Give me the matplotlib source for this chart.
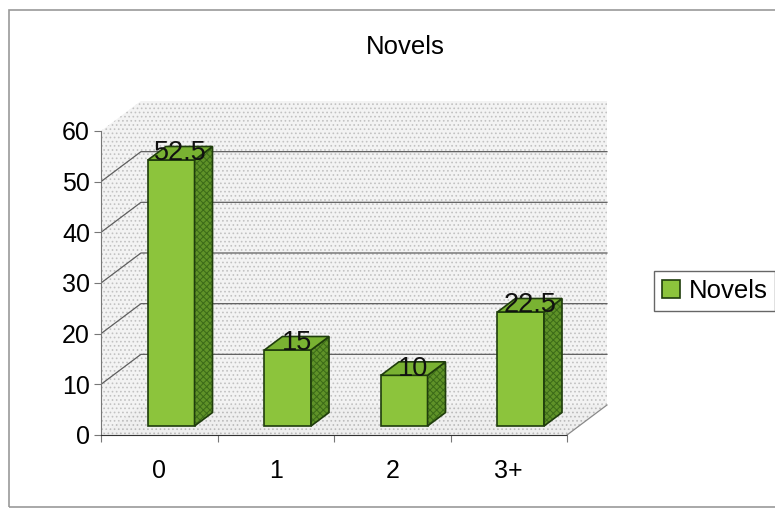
import numpy as np
import matplotlib.pyplot as plt
from matplotlib.patches import Polygon, Rectangle, Patch

plt.rcParams['font.family'] = ['Liberation Sans', 'DejaVu Sans']
plt.rcParams['hatch.linewidth'] = 0.7

categories = ['0', '1', '2', '3+']
novels = [52.5, 15, 10, 22.5]
y_ticks = [0, 10, 20, 30, 40, 50, 60]

# pseudo-3D geometry (data units: one category = 1, y in value units)
DX, DY = 0.343, 5.92        # depth of the whole plot box
F0, F1 = 0.30, 0.75         # bar front / back as fraction of depth
BAR_W = 0.40
YMAX = 60

FRONT = '#8cc43c'
TOP = '#79b232'
SIDE = '#5f9228'
EDGE = '#1f3d0c'
WALL = '#f3f3f3'
DOTS = '#c2c2c2'

fig = plt.figure(figsize=(7.75, 5.08), dpi=100)
W, H = 775, 508
x0_px, x1_px, y0_px, y1_px = 101, 625, 435, 88
ax = fig.add_axes([x0_px / W, 1 - y0_px / H, (x1_px - x0_px) / W, (y0_px - y1_px) / H])
ax.set_xlim(0, (x1_px - x0_px) / 116.5)
ax.set_ylim(0, (y0_px - y1_px) / 5.067)
ax.patch.set_visible(False)

n = len(categories)

# walls and floor
back = Polygon([(DX, DY), (n + DX, DY), (n + DX, YMAX + DY), (DX, YMAX + DY)],
               facecolor=WALL, edgecolor=DOTS, hatch='....', lw=0, zorder=0)
side = Polygon([(0, 0), (DX, DY), (DX, YMAX + DY), (0, YMAX)],
               facecolor=WALL, edgecolor=DOTS, hatch='....', lw=0, zorder=0)
floor = Polygon([(0, 0), (n, 0), (n + DX, DY), (DX, DY)],
                facecolor='#efefef', edgecolor='#bbbbbb', hatch='....', lw=0, zorder=0)
for p in (back, side, floor):
    ax.add_patch(p)

# gridlines on the walls
for v in y_ticks[1:-1]:
    ax.plot([0, DX, n + DX], [v, v + DY, v + DY], color='#5e5e5e', lw=0.9, zorder=1)
ax.plot([n, n + DX], [0, DY], color='#8a8a8a', lw=0.9, zorder=1)

# front faces of the bars
xs = np.arange(n) + 0.5 - BAR_W / 2 + F0 * DX
ax.bar(xs, novels, width=BAR_W, bottom=F0 * DY, align='edge',
       color=FRONT, edgecolor=EDGE, lw=1.2, zorder=3)

dxb, dyb = (F1 - F0) * DX, (F1 - F0) * DY
for i, v in enumerate(novels):
    xl, xr = xs[i], xs[i] + BAR_W
    yb, yt = F0 * DY, v + F0 * DY
    side_pts = [(xr, yb), (xr + dxb, yb + dyb), (xr + dxb, yt + dyb), (xr, yt)]
    top_pts = [(xl, yt), (xr, yt), (xr + dxb, yt + dyb), (xl + dxb, yt + dyb)]
    ax.add_patch(Polygon(side_pts, facecolor=SIDE, edgecolor='#3b6a18', hatch='xxxxx', lw=0, zorder=3))
    ax.add_patch(Polygon(side_pts, fill=False, edgecolor=EDGE, lw=1.2, zorder=3))
    ax.add_patch(Polygon(top_pts, facecolor=TOP, edgecolor=EDGE, lw=1.2, zorder=3))
    ax.text(xl + BAR_W / 2 + dxb / 2, yt + dyb * 0.5, f'{v:g}', ha='center', va='center',
            fontsize=19.5, color='#111111', zorder=4)

# front axes
for s in ('top', 'right'):
    ax.spines[s].set_visible(False)
ax.spines['left'].set_bounds(0, YMAX)
ax.spines['bottom'].set_bounds(0, n)
ax.spines['left'].set_color('#777777')
ax.spines['bottom'].set_color('#333333')
ax.spines['bottom'].set_linestyle((0, (2, 1)))
ax.set_yticks(y_ticks)
ax.tick_params(axis='y', labelsize=18, length=5, pad=3, color='#777777')
ax.set_xticks(np.arange(n + 1))
ax.set_xticklabels([])
ax.set_xticks(np.arange(n) + 0.5, minor=True)
ax.set_xticklabels(categories, minor=True)
ax.tick_params(axis='x', which='major', length=5, color='#777777')
ax.tick_params(axis='x', which='minor', length=0, labelsize=18, pad=17)

fig.text(405 / W, 1 - 47 / H, 'Novels', ha='center', va='center', fontsize=18.5)

fig.legend(handles=[Patch(facecolor=FRONT, edgecolor=EDGE, lw=1.2, label='Novels')],
           loc='center left', bbox_to_anchor=(654 / W, 1 - 291 / H), fontsize=18.5,
           fancybox=False, edgecolor='#666666', handlelength=0.7, handleheight=0.7,
           handletextpad=0.35, borderpad=0.3, borderaxespad=0, framealpha=1)

# chart frame
fig.add_artist(Rectangle((9 / W, 1 - 507 / H), 800 / W, 497 / H, transform=fig.transFigure,
                         fill=False, edgecolor='#999999', lw=1.2))

fig.savefig('out.png', dpi=100)
